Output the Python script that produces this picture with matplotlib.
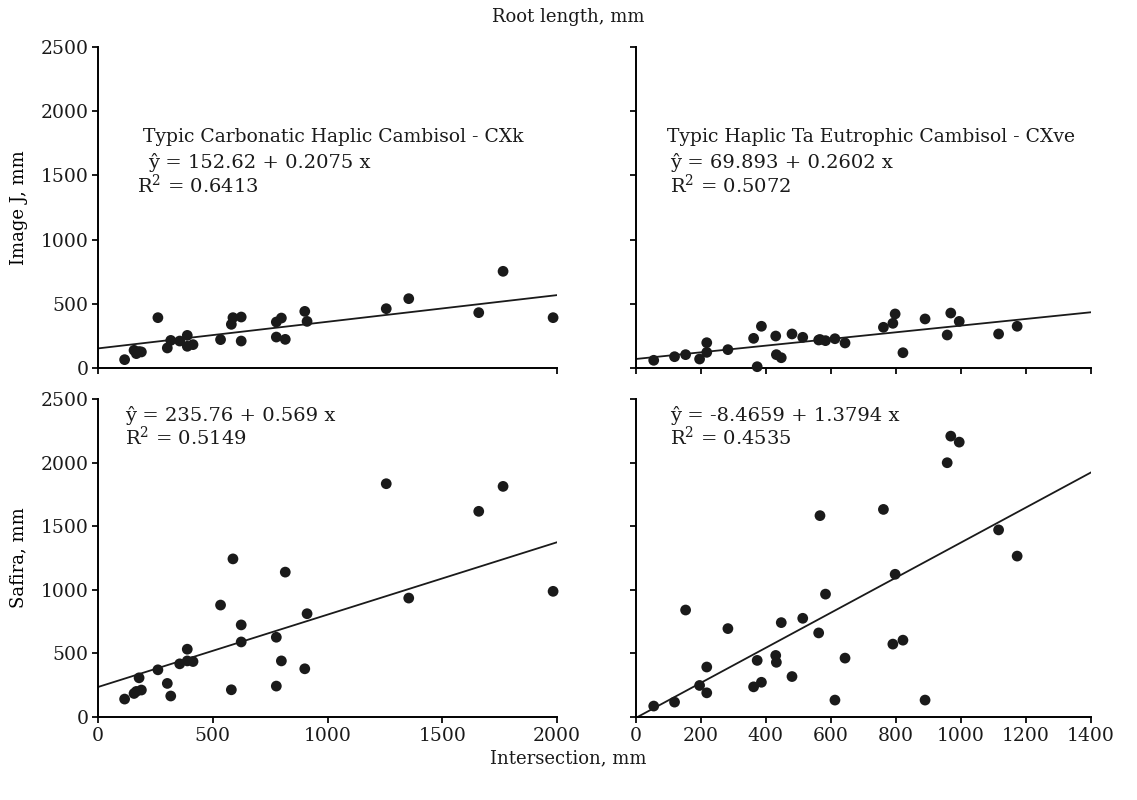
import matplotlib
matplotlib.use('Agg')
import numpy as np
import matplotlib.pyplot as plt

plt.rcParams.update({'font.family': ['DejaVu Serif'], 'font.size': 12,
                     'mathtext.fontset': 'dejavuserif',
                     'axes.linewidth': 1.4, 'xtick.major.width': 1.4,
                     'ytick.major.width': 1.4, 'xtick.major.size': 4,
                     'ytick.major.size': 4})

# ---- data ----
# CXk soil (left column): intersection (x), Image J (top), Safira (bottom)
cxk_x = [116, 157, 167, 179, 189, 261, 302, 317, 356, 389, 389, 414, 534, 581,
         588, 624, 624, 777, 777, 799, 816, 901, 911, 1256, 1354, 1659, 1765, 1983]
cxk_imagej = [65, 138, 112, 128, 125, 392, 156, 215, 210, 254, 169, 182, 221, 340,
              392, 397, 210, 358, 241, 389, 223, 441, 363, 462, 540, 431, 753, 392]
cxk_safira = [141, 185, 201, 308, 212, 371, 264, 165, 418, 533, 441, 436, 880, 214,
              1243, 724, 590, 627, 243, 441, 1139, 379, 812, 1834, 935, 1617, 1813, 988]

# CXve soil (right column)
cxve_x = [56, 120, 154, 197, 219, 219, 284, 363, 374, 387, 431, 433, 448, 481, 514,
          563, 567, 584, 613, 644, 762, 791, 798, 822, 890, 958, 969, 995, 1116, 1173]
cxve_imagej = [60, 88, 104, 70, 197, 122, 143, 231, 10, 325, 249, 104, 80, 265, 239,
               218, 222, 213, 228, 195, 317, 348, 421, 119, 382, 257, 428, 363, 265, 325]
cxve_safira = [86, 117, 841, 248, 393, 190, 695, 237, 445, 273, 484, 430, 742, 318, 776,
               661, 1583, 966, 133, 463, 1632, 573, 1122, 604, 133, 1999, 2208, 2161, 1471, 1265]

# fitted equations (intercept, slope, r2)
fits = {
    'tl': (152.62, 0.2075, '0.6413'),
    'tr': (69.893, 0.2602, '0.5072'),
    'bl': (235.76, 0.569, '0.5149'),
    'br': (-8.4659, 1.3794, '0.4535'),
}

W, H = 1137, 800
fig = plt.figure(figsize=(W / 100, H / 100), dpi=100)

def make_ax(x0, x1, y0, y1):
    return fig.add_axes([x0 / W, 1 - y1 / H, (x1 - x0) / W, (y1 - y0) / H])

ax_tl = make_ax(98, 557, 47, 368)
ax_tr = make_ax(635.5, 1091, 47, 368)
ax_bl = make_ax(98, 557, 399, 717)
ax_br = make_ax(635.5, 1091, 399, 717)

panels = [
    (ax_tl, cxk_x, cxk_imagej, 'tl', 2000),
    (ax_tr, cxve_x, cxve_imagej, 'tr', 1400),
    (ax_bl, cxk_x, cxk_safira, 'bl', 2000),
    (ax_br, cxve_x, cxve_safira, 'br', 1400),
]

for ax, xs, ys, key, xmax in panels:
    a, b, r2 = fits[key]
    ax.scatter(xs, ys, s=60, color='#1a1a1a', edgecolors='none', zorder=3, clip_on=False)
    xl = np.array([0, xmax], dtype=float)
    yl = a + b * xl
    if yl[0] < 0:
        xl[0] = -a / b
        yl[0] = 0
    ax.plot(xl, yl, color='#1a1a1a', lw=1.3, zorder=2)
    ax.set_xlim(0, xmax)
    ax.set_ylim(0, 2500)
    ax.set_yticks(range(0, 2501, 500))
    for s in ('top', 'right'):
        ax.spines[s].set_visible(False)
    ax.tick_params(colors='#1a1a1a', labelsize=13.5, pad=3)
    ax.eq = f'ŷ = {a} + {b} x'
    ax.r2 = f'R$^{{2}}$ = {r2}'

# ticks / labels per panel
ax_tl.set_xticks([0, 2000]); ax_tl.set_xticklabels([])
ax_bl.set_xticks(range(0, 2001, 500))
ax_tr.set_xticks(range(0, 1401, 200)); ax_tr.set_xticklabels([])
ax_br.set_xticks(range(0, 1401, 200))
ax_tr.set_yticklabels([]); ax_br.set_yticklabels([])
ax_tl.set_ylabel('Image J, mm', fontsize=13, labelpad=9)
ax_bl.set_ylabel('Safira, mm', fontsize=13, labelpad=9)

def ftext(x, y, s, size=14, **kw):
    fig.text(x / W, 1 - y / H, s, fontsize=size, color='#1a1a1a', va='center', **kw)

ftext(143, 137, 'Typic Carbonatic Haplic Cambisol - CXk', size=13.5)
ftext(667, 137, 'Typic Haplic Ta Eutrophic Cambisol - CXve', size=13.5)
ftext(148, 163, ax_tl.eq); ftext(137, 185, ax_tl.r2)
ftext(670, 163, ax_tr.eq); ftext(670, 185, ax_tr.r2)
ftext(125, 415, ax_bl.eq); ftext(125, 437, ax_bl.r2)
ftext(670, 415, ax_br.eq); ftext(670, 437, ax_br.r2)

ftext(568, 17, 'Root length, mm', size=13, ha='center')
ftext(568, 758, 'Intersection, mm', size=13, ha='center')

fig.savefig('out.png', dpi=100, facecolor='white')
